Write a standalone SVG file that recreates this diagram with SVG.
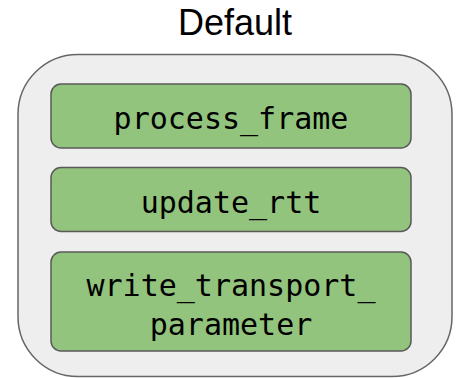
<svg xmlns="http://www.w3.org/2000/svg" width="456" height="378" viewBox="0 0 456 378">
  <style>
    .title { font-family: "Liberation Sans", Arial, sans-serif; font-size: 36px; fill: #000; text-anchor: middle; }
    .box { fill: #93c47d; stroke: #595959; stroke-width: 1.5; }
    .label { font-family: "DejaVu Sans Mono", "Liberation Mono", monospace; font-size: 30px; fill: #000; text-anchor: middle; }
  </style>
  <rect width="456" height="378" fill="#ffffff"/>
  <text class="title" x="235" y="35">Default</text>
  <g id="default-group">
    <rect x="18" y="54.5" width="434" height="322" rx="60" ry="60" fill="#eeeeee" stroke="#666666" stroke-width="1.5"/>
  </g>
  <g id="process_frame">
    <rect class="box" x="51" y="84" width="360" height="64" rx="10" ry="10"/>
    <text class="label" x="231" y="129">process_frame</text>
  </g>
  <g id="update_rtt">
    <rect class="box" x="51" y="167.5" width="360" height="64" rx="10" ry="10"/>
    <text class="label" x="231" y="213">update_rtt</text>
  </g>
  <g id="write_transport_parameter">
    <rect class="box" x="51" y="252" width="360" height="99" rx="10" ry="10"/>
    <text class="label" x="231" y="296">write_transport_</text>
    <text class="label" x="231" y="335">parameter</text>
  </g>
  <g id="connectors"/>
</svg>
